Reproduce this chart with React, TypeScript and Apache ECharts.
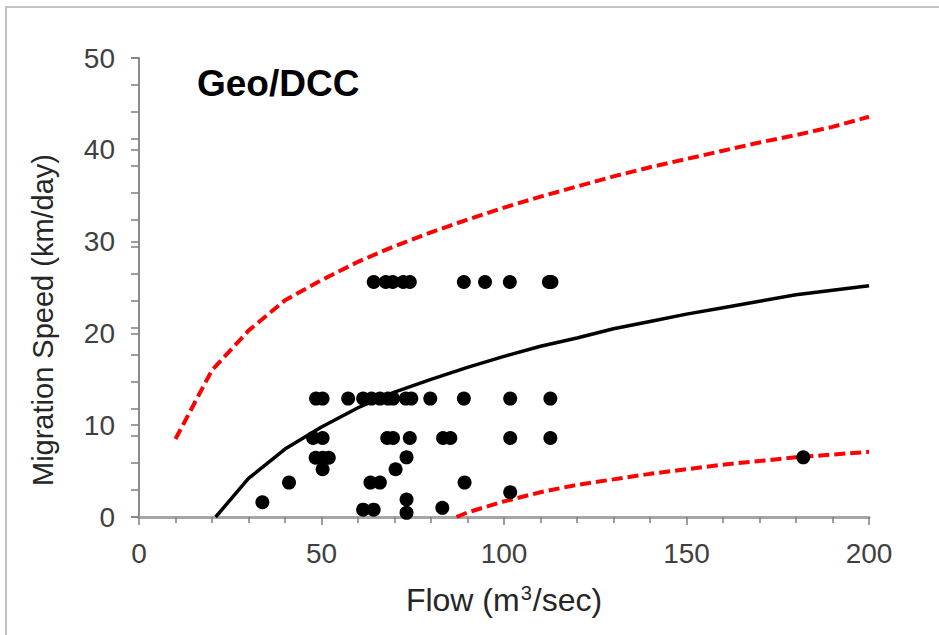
import React, { useEffect, useRef } from "react";
import * as echarts from "echarts";

// Observed points (flow m3/sec, migration speed km/day)
const pointFlow = [
  64.3, 67.6, 69.5, 72.4, 74.2, 89.0, 94.8, 101.6, 112.3, 113.0,
  48.5, 50.3, 57.3, 61.4, 63.7, 66.0, 68.2, 69.6, 73.1, 74.6, 79.8, 89.0, 101.7, 112.7,
  47.7, 50.3, 68.0, 69.6, 74.2, 83.3, 85.3, 101.7, 112.7,
  48.4, 50.3, 52.0, 73.3,
  50.3, 70.3,
  41.1, 63.4, 66.0, 89.2,
  101.7, 33.8, 73.3, 83.1, 61.4, 64.3, 73.3,
  182.0,
];
const pointSpeed = [
  25.6, 25.6, 25.6, 25.6, 25.6, 25.6, 25.6, 25.6, 25.6, 25.6,
  12.9, 12.9, 12.9, 12.9, 12.9, 12.9, 12.9, 12.9, 12.9, 12.9, 12.9, 12.9, 12.9, 12.9,
  8.6, 8.6, 8.6, 8.6, 8.6, 8.6, 8.6, 8.6, 8.6,
  6.45, 6.45, 6.45, 6.5,
  5.2, 5.2,
  3.75, 3.75, 3.75, 3.75,
  2.7, 1.6, 1.9, 1.0, 0.8, 0.8, 0.45,
  6.5,
];

// Fitted curve (solid black)
const fitFlow = [21, 30, 40, 50, 60, 70, 80, 90, 100, 110, 120, 130, 140, 150, 160, 170, 180, 190, 200];
const fitSpeed = [0, 4.2, 7.4, 9.8, 11.9, 13.6, 15.0, 16.3, 17.5, 18.6, 19.5, 20.5, 21.3, 22.1, 22.8, 23.5, 24.2, 24.7, 25.2];

// Upper bound (red dashed)
const upperFlow = [10, 20, 30, 40, 50, 60, 70, 80, 90, 100, 110, 120, 130, 140, 150, 160, 170, 180, 190, 200];
const upperSpeed = [8.5, 16.0, 20.3, 23.6, 25.8, 27.8, 29.5, 31.0, 32.4, 33.7, 34.9, 36.0, 37.1, 38.1, 39.0, 39.9, 40.8, 41.6, 42.5, 43.6];

// Lower bound (red dashed)
const lowerFlow = [87, 90, 100, 110, 120, 130, 140, 150, 160, 170, 180, 190, 200];
const lowerSpeed = [0, 0.5, 1.7, 2.7, 3.5, 4.1, 4.7, 5.2, 5.7, 6.1, 6.5, 6.8, 7.1];

const titleText = "Geo/DCC";
const yName = "Migration Speed (km/day)";

const zip = (a: number[], b: number[]) => a.map((v, i) => [v, b[i]]);

const FONT = "'Liberation Sans', Arial, sans-serif";

export default function App() {
  const ref = useRef<HTMLDivElement>(null);
  useEffect(() => {
    if (!ref.current) return;
    const chart = echarts.init(ref.current, undefined, { renderer: "svg" });
    const tickStyle = { color: "#7f7f7f", width: 1.5 };
    chart.setOption({
      animation: false,
      backgroundColor: "#ffffff",
      textStyle: { fontFamily: FONT },
      title: {
        text: titleText,
        left: 192,
        top: 60,
        textStyle: { fontSize: 37, fontWeight: "bold", color: "#000", fontFamily: FONT },
      },
      graphic: [
        {
          type: "rect",
          shape: { x: 6, y: 7, width: 1000, height: 1000 },
          style: { fill: "none", stroke: "#c4c4c4", lineWidth: 2 },
          silent: true,
        },
        {
          type: "text",
          x: 43,
          y: 320,
          rotation: Math.PI / 2,
          style: {
            text: yName,
            fontSize: 29,
            fontFamily: FONT,
            fill: "#262626",
            align: "center",
            verticalAlign: "middle",
          },
          silent: true,
        },
      ],
      grid: { left: 139, right: 70, top: 58, bottom: 118 },
      xAxis: {
        type: "value",
        min: 0,
        max: 200,
        interval: 50,
        name: "{a|Flow (m}{s|3}{a|/sec)}",
        nameLocation: "middle",
        nameGap: 66,
        nameTextStyle: {
          color: "#262626",
          fontFamily: FONT,
          rich: {
            a: { fontSize: 32, color: "#262626", fontFamily: FONT },
            s: { fontSize: 20, color: "#262626", fontFamily: FONT, verticalAlign: "top", padding: [0, 1, 14, 1] },
          },
        },
        axisLine: { lineStyle: { color: "#a6a6a6", width: 3 } },
        axisTick: { show: true, length: 8, lineStyle: tickStyle },
        minorTick: { show: true, splitNumber: 5, length: 6, lineStyle: tickStyle },
        axisLabel: { fontSize: 28, color: "#404040", margin: 22, fontFamily: FONT },
        splitLine: { show: false },
        minorSplitLine: { show: false },
      },
      yAxis: [
        {
          type: "value",
          min: 0,
          max: 50,
          interval: 10,
          axisLine: { show: true, lineStyle: { color: "#8c8c8c", width: 2 } },
          axisTick: { show: true, length: 8, lineStyle: tickStyle },
          axisLabel: { fontSize: 28, color: "#404040", margin: 24, fontFamily: FONT },
          splitLine: { show: false },
        },
        {
          type: "value",
          min: 0,
          max: 51,
          interval: 3,
          position: "left",
          axisLine: { show: false },
          axisTick: { show: true, length: 8, lineStyle: tickStyle },
          axisLabel: { show: false },
          splitLine: { show: false },
        },
      ],
      series: [
        {
          type: "line",
          data: zip(upperFlow, upperSpeed),
          symbol: "none",
          lineStyle: { color: "#ff0000", width: 4, type: [11, 5] },
          z: 2,
        },
        {
          type: "line",
          data: zip(lowerFlow, lowerSpeed),
          symbol: "none",
          lineStyle: { color: "#ff0000", width: 4, type: [11, 5] },
          z: 2,
        },
        {
          type: "line",
          data: zip(fitFlow, fitSpeed),
          symbol: "none",
          lineStyle: { color: "#000000", width: 3.5 },
          z: 2,
        },
        {
          type: "scatter",
          data: zip(pointFlow, pointSpeed),
          symbol: "circle",
          symbolSize: 14,
          itemStyle: { color: "#000000", opacity: 1 },
          z: 3,
        },
      ],
    });
    return () => chart.dispose();
  }, []);
  return (
    <div
      ref={ref}
      style={{ position: "fixed", left: 0, top: 0, width: 939, height: 635, background: "#fff" }}
    />
  );
}
